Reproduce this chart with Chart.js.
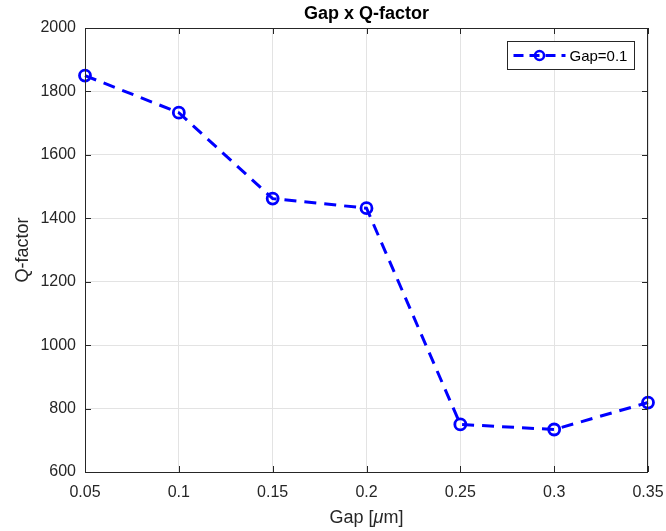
<!DOCTYPE html>
<html>
<head>
<meta charset="utf-8">
<script src="https://cdn.jsdelivr.net/npm/chart.js@4"></script>
<style>
  body { margin: 0; background: #fff; }
  #wrap { width: 666px; height: 531px; }
</style>
</head>
<body>
<div id="wrap"><canvas id="myChart" width="666" height="531"></canvas></div>
<script>
// data
const gaps = [0.05, 0.1, 0.15, 0.2, 0.25, 0.3, 0.35];
const qFactor = [1850, 1733, 1462, 1432, 750, 734, 819];
const xTicks = [0.05, 0.1, 0.15, 0.2, 0.25, 0.3, 0.35];
const yTicks = [600, 800, 1000, 1200, 1400, 1600, 1800, 2000];
const seriesName = 'Gap=0.1';

const FONT = "'Liberation Sans', Arial, Helvetica, sans-serif";
const blue = 'rgb(0,0,255)';
const axisColor = '#262626';

// box around the plot, inward ticks, title, x label and legend (matlab look)
const matlabBox = {
    id: 'matlabBox',
    afterDraw(chart) {
        const ctx = chart.ctx;
        const a = chart.chartArea;
        const xs = chart.scales.x, ys = chart.scales.y;
        ctx.save();
        ctx.strokeStyle = axisColor;
        ctx.lineWidth = 1;
        ctx.strokeRect(a.left + 0.5, a.top + 0.5, a.right - a.left - 1, a.bottom - a.top);
        // tick marks pointing inwards
        xTicks.forEach(v => {
            const px = Math.round(xs.getPixelForValue(v)) + 0.5;
            ctx.beginPath();
            ctx.moveTo(px, a.bottom); ctx.lineTo(px, a.bottom - 6);
            ctx.moveTo(px, a.top); ctx.lineTo(px, a.top + 6);
            ctx.stroke();
        });
        yTicks.forEach(v => {
            const py = Math.round(ys.getPixelForValue(v)) + 0.5;
            ctx.beginPath();
            ctx.moveTo(a.left, py); ctx.lineTo(a.left + 6, py);
            ctx.moveTo(a.right, py); ctx.lineTo(a.right - 6, py);
            ctx.stroke();
        });

        const midX = (a.left + a.right) / 2;
        // title
        ctx.fillStyle = '#000';
        ctx.font = 'bold 18px ' + FONT;
        ctx.textAlign = 'center';
        ctx.textBaseline = 'middle';
        ctx.fillText('Gap x Q-factor', midX, 14);

        // x label with italic mu
        const parts = [['Gap [', '18px '], ['\u03bc', 'italic 18px '], ['m]', '18px ']];
        let total = 0;
        parts.forEach(p => { ctx.font = p[1] + FONT; total += ctx.measureText(p[0]).width; });
        let tx = midX - total / 2;
        ctx.fillStyle = axisColor;
        ctx.textAlign = 'left';
        parts.forEach(p => {
            ctx.font = p[1] + FONT;
            ctx.fillText(p[0], tx, 518);
            tx += ctx.measureText(p[0]).width;
        });

        // legend
        const lx = 507.5, ly = 41.5, lw = 127, lh = 28;
        ctx.fillStyle = '#fff';
        ctx.fillRect(lx, ly, lw, lh);
        ctx.strokeStyle = axisColor;
        ctx.lineWidth = 1;
        ctx.strokeRect(lx, ly, lw, lh);
        const cy = ly + lh / 2;
        ctx.strokeStyle = blue;
        ctx.lineWidth = 3;
        ctx.setLineDash([10, 6]);
        ctx.beginPath();
        ctx.moveTo(lx + 6, cy); ctx.lineTo(lx + 58, cy);
        ctx.stroke();
        ctx.setLineDash([]);
        ctx.lineWidth = 2.5;
        ctx.beginPath();
        ctx.arc(lx + 32, cy, 4.5, 0, Math.PI * 2);
        ctx.stroke();
        ctx.fillStyle = '#000';
        ctx.font = '15px ' + FONT;
        ctx.textAlign = 'left';
        ctx.fillText(seriesName, lx + 62, cy + 1);
        ctx.restore();
    }
};

const data = {
    datasets: [{
        label: seriesName,
        data: gaps.map((g, i) => ({ x: g, y: qFactor[i] })),
        borderColor: blue,
        borderWidth: 3,
        borderDash: [12, 8],
        pointStyle: 'circle',
        pointRadius: 5.5,
        pointBorderWidth: 2.8,
        pointBorderColor: blue,
        pointBackgroundColor: 'rgba(0,0,0,0)',
        tension: 0,
        clip: false
    }]
};

const config = {
    type: 'line',
    data: data,
    options: {
        responsive: false,
        animation: false,
        layout: { padding: { top: 28, right: 18, left: 0, bottom: 0 } },
        plugins: {
            legend: { display: false },
            title: { display: false },
            tooltip: { enabled: false }
        },
        scales: {
            x: {
                type: 'linear',
                min: 0.05,
                max: 0.35,
                afterBuildTicks: s => { s.ticks = xTicks.map(v => ({ value: v })); },
                afterFit: s => { s.height = 59; s.paddingLeft = 0; s.paddingRight = 0; },
                ticks: {
                    color: axisColor,
                    font: { family: FONT, size: 16 },
                    padding: 11,
                    maxRotation: 0,
                    callback: v => String(+v.toFixed(2))
                },
                grid: { color: '#e3e3e3', drawTicks: false, tickLength: 0 },
                border: { display: false },
                title: { display: false }
            },
            y: {
                min: 600,
                max: 2000,
                afterBuildTicks: s => { s.ticks = yTicks.map(v => ({ value: v })); },
                afterFit: s => { s.width = 85; s.paddingTop = 0; s.paddingBottom = 0; },
                ticks: {
                    color: axisColor,
                    font: { family: FONT, size: 16 },
                    padding: 9,
                    callback: v => String(v)
                },
                grid: { color: '#e3e3e3', drawTicks: false, tickLength: 0 },
                border: { display: false },
                title: {
                    display: true,
                    text: 'Q-factor',
                    color: axisColor,
                    font: { family: FONT, size: 18 },
                    padding: { top: 12, bottom: 0 }
                }
            }
        }
    },
    plugins: [matlabBox]
};

const myChart = new Chart(document.getElementById('myChart'), config);
</script>
</body>
</html>
